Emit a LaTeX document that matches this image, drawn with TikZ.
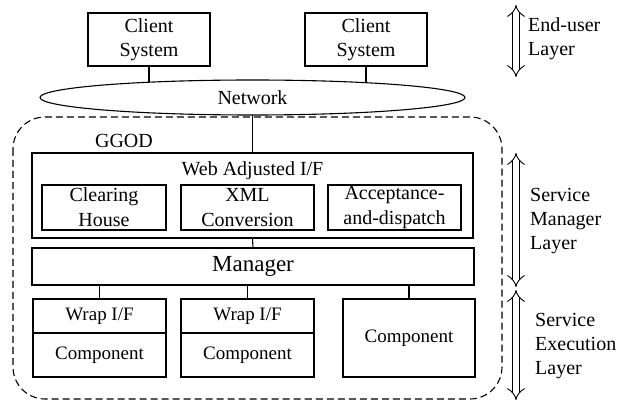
\documentclass[tikz,border=0pt]{standalone}
\usepackage{fontspec}
\setmainfont{Liberation Serif}
\usetikzlibrary{shapes.geometric,arrows.meta,backgrounds,positioning}

\begin{document}
\begin{tikzpicture}[x=1pt,y=-1pt,
    every node/.style={font=\fontsize{20}{24}\selectfont, inner sep=0pt},
    box/.style={draw, line width=1.1pt, outer sep=0pt, align=center},
    wire/.style={line width=1.1pt},
    small/.style={font=\fontsize{19}{23}\selectfont},
    layer/.style={line width=0.9pt, double distance=5.5pt, {Implies[scale=1.5]}-{Implies[scale=1.5]}}]

    \useasboundingbox (0,0) rectangle (619,403);

    \def\ggod{(13,117) rectangle (502,399)}

    %end users:
    \node[box, minimum width=122, minimum height=53] (client1) at (149,39.5) {Client\\System};
    \node[box, minimum width=122, minimum height=53] (client2) at (366,39.5) {Client\\System};
    \node[box, ellipse, fill=white, minimum width=425, minimum height=35] (net) at (252.5,97.5) {Network};

    %GGOD area:
    \draw[line width=1.1pt, dash pattern=on 7pt off 4pt, rounded corners=32] \ggod;
    \node (ggodlabel) at (124,141) {GGOD};

    %manager layer:
    \node[box, minimum width=441, minimum height=85] (web) at (252.5,195.5) {};
    \node (webtitle) at (252.5,171) {Web Adjusted I/F};
    \node[box, minimum width=124, minimum height=45, font=\fontsize{20}{25}\selectfont] (clearing) at (104,207.5) {Clearing\\House};
    \node[box, minimum width=133, minimum height=45, font=\fontsize{20}{25}\selectfont] (xml) at (247.5,207.5) {XML\\Conversion};
    \node[box, minimum width=133, minimum height=45, font=\fontsize{20}{25}\selectfont] (accept) at (394.5,207.5) {Acceptance-\\and-dispatch};
    \node[box, minimum width=442, minimum height=37, font=\fontsize{23}{27}\selectfont] (manager) at (253,266.5) {Manager};

    %execution layer:
    \node[box, small, minimum width=133, minimum height=34] (wrap1) at (99.5,316) {Wrap I/F};
    \node[box, small, minimum width=133, minimum height=44, below=0pt of wrap1] (comp1) {Component};
    \node[box, small, minimum width=133, minimum height=34] (wrap2) at (247.5,316) {Wrap I/F};
    \node[box, small, minimum width=133, minimum height=44, below=0pt of wrap2] (comp2) {Component};
    \node[box, small, minimum width=132, minimum height=78] (comp3) at (409,338) {Component};

    %connectors:
    \begin{scope}[on background layer]
        \draw[wire] (client1.south) -- (client1.south |- net.center);
        \draw[wire] (client2.south) -- (client2.south |- net.center);
    \end{scope}
    \draw[wire] (net.south) -- (web.north);
    \draw[wire] (web.south) -- (manager.north);
    \foreach \n in {wrap1,wrap2,comp3}
        \draw[wire] (manager.south -| \n.north) -- (\n.north);

    %layers:
    \coordinate (eutop) at (516,5);
    \coordinate (eubot) at (516,77);
    \coordinate (smtop) at (516,153);
    \coordinate (smbot) at (516,287);
    \coordinate (setop) at (516,290);
    \coordinate (sebot) at (516,400);
    \draw[layer] (eutop) -- (eubot);
    \draw[layer] (smtop) -- (smbot);
    \draw[layer] (setop) -- (sebot);
    \node[anchor=west, align=left] (eulabel) at (528,39) {End-user\\Layer};
    \node[anchor=west, align=left] (smlabel) at (530,221) {Service\\Manager\\Layer};
    \node[anchor=west, align=left] (selabel) at (535,346) {Service\\Execution\\Layer};

\end{tikzpicture}
\end{document}
